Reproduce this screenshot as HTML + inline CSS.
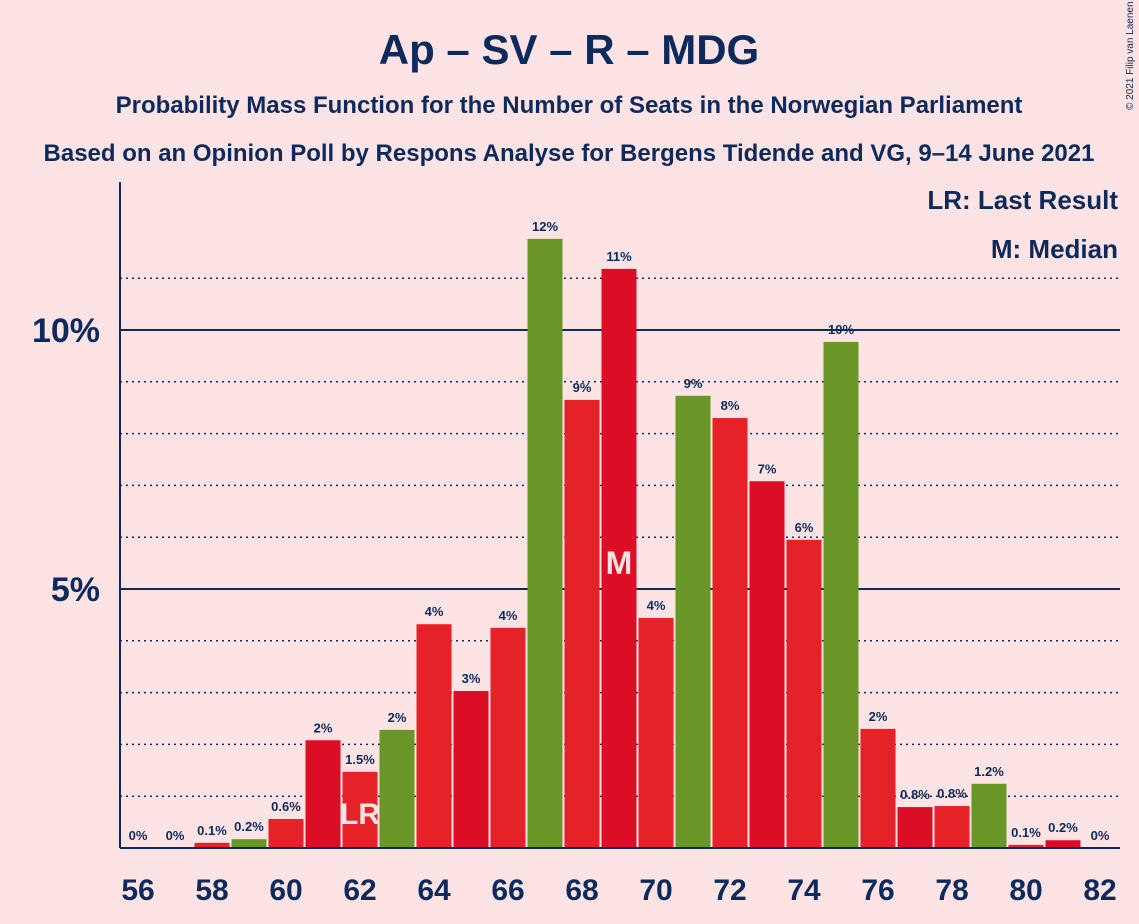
<!DOCTYPE html>
<html><head><meta charset="utf-8"><style>
body{margin:0;background:#fde3e3;}
svg{display:block;font-family:"Liberation Sans",sans-serif;}
</style></head><body>
<svg width="1139" height="924">
<rect width="1139" height="924" fill="#fde3e3"/>
<text x="569" y="64" text-anchor="middle" font-size="42" font-weight="bold" fill="#0d2a5c">Ap – SV – R – MDG</text>
<text x="569" y="113" text-anchor="middle" font-size="24" font-weight="bold" fill="#0d2a5c">Probability Mass Function for the Number of Seats in the Norwegian Parliament</text>
<text x="569" y="161" text-anchor="middle" font-size="24" font-weight="bold" fill="#0d2a5c">Based on an Opinion Poll by Respons Analyse for Bergens Tidende and VG, 9–14 June 2021</text>
<text x="1133" y="110" font-size="10" fill="#0d2a5c" transform="rotate(-90 1133 110)">© 2021 Filip van Laenen</text>
<g id="grid"></g>
<g id="bars"></g>
<g id="labels"></g>
<line x1="120" y1="182" x2="120" y2="848" stroke="#0d2a5c" stroke-width="2"/>
<line x1="120" y1="848" x2="1120" y2="848" stroke="#0d2a5c" stroke-width="2"/>
<text x="1118" y="209" text-anchor="end" font-size="26" font-weight="bold" fill="#0d2a5c">LR: Last Result</text>
<text x="1118" y="258" text-anchor="end" font-size="26" font-weight="bold" fill="#0d2a5c">M: Median</text>
</svg>
<script>
const seats=[56,57,58,59,60,61,62,63,64,65,66,67,68,69,70,71,72,73,74,75,76,77,78,79,80,81,82];
const probs=[0,0,0.1,0.17,0.56,2.08,1.47,2.28,4.32,3.03,4.25,11.76,8.65,11.18,4.44,8.73,8.3,7.08,5.95,9.77,2.3,0.79,0.81,1.24,0.06,0.15,0];
const valueLabels=["0%","0%","0.1%","0.2%","0.6%","2%","1.5%","2%","4%","3%","4%","12%","9%","11%","4%","9%","8%","7%","6%","10%","2%","0.8%","0.8%","1.2%","0.1%","0.2%","0%"];
const greenSeats=[59,63,67,71,75,79];
const lastResult=62, median=69;
const yTicks=[5,10];
const NS="http://www.w3.org/2000/svg";
const x=s=>138+(s-56)*37;
const y=p=>848-p*51.8;
function mk(t,a,parent){const e=document.createElementNS(NS,t);for(const k in a)e.setAttribute(k,a[k]);document.getElementById(parent).appendChild(e);return e;}
for(let i=1;i<=11;i++){
  const l=mk('line',{x1:120,x2:1120,y1:y(i),y2:y(i),stroke:'#0d2a5c','stroke-width':i%5==0?2:1.5,'stroke-dasharray':i%5==0?'':'2,4'},'grid');
  
  
}
yTicks.forEach(t=>{const e=mk('text',{x:100,y:y(t)+12,'text-anchor':'end','font-size':34,'font-weight':'bold',fill:'#0d2a5c'},'labels');e.textContent=t+'%';

});
seats.forEach((s,i)=>{
  const p=probs[i];
  const col=greenSeats.includes(s)?'#6a9628':(i%2?'#dc0e25':'#e42228');
  if(p>0){const r=mk('rect',{x:x(s)-17.5,y:y(p),width:35,height:848-y(p),fill:col},'bars');
  
  }
  const t=mk('text',{x:x(s),y:y(p)-8,'text-anchor':'middle','font-size':13,'font-weight':'bold',fill:'#0d2a5c'},'labels');
  t.textContent=valueLabels[i];
  
  
  if(s%2==0){const xl=mk('text',{x:x(s),y:900,'text-anchor':'middle','font-size':30,'font-weight':'bold',fill:'#0d2a5c'},'labels');xl.textContent=s;
  
  }
  if(s==lastResult){const m=mk('text',{x:x(s),y:824,'text-anchor':'middle','font-size':30,'font-weight':'bold',fill:'#fde3e3'},'labels');m.textContent='LR';
  
  }
  if(s==median){const m=mk('text',{x:x(s),y:574,'text-anchor':'middle','font-size':32,'font-weight':'bold',fill:'#fde3e3'},'labels');m.textContent='M';
  
  }
});
</script>
</body></html>
